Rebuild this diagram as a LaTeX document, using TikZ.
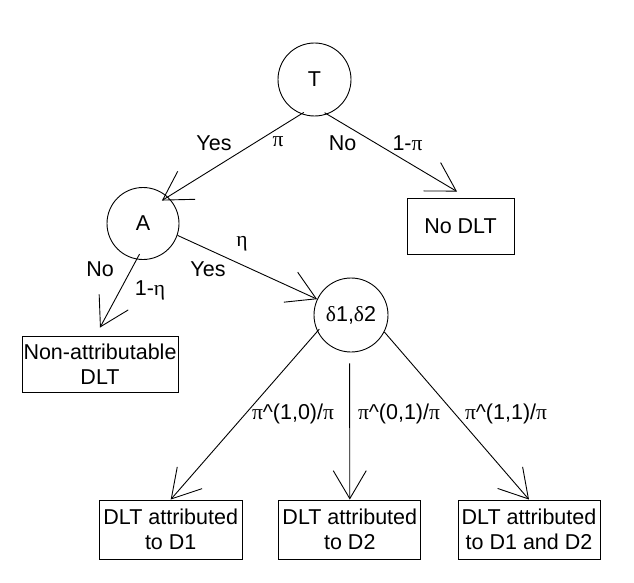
\documentclass[tikz,border=0pt]{standalone}
\usepackage{fontspec}
\setmainfont{Liberation Sans}
\newfontfamily\gr{Liberation Serif}
\usetikzlibrary{arrows.meta}
\begin{document}
\begin{tikzpicture}[x=1pt,y=-1pt,
  every node/.style={font=\fontsize{21.5}{24.5}\selectfont},
  chance/.style={draw,circle,line width=0.9pt,inner sep=0pt},
  outcome/.style={draw,rectangle,line width=0.9pt,align=center,inner sep=0pt},
  lbl/.style={inner sep=0pt},
  branch/.style={line width=0.9pt,-{Straight Barb[length=28pt,width=33pt,line width=0.9pt]}}]
\useasboundingbox (0,0) rectangle (634,583);
% chance nodes
\node[chance,minimum size=73pt] (T) at (314.5,79.5) {T};
\node[chance,minimum size=72pt] (A) at (143,223.5) {A};
\node[chance,minimum size=74pt] (D) at (351,315) {{\gr δ}1,{\gr δ}2};
% outcome boxes
\node[outcome,minimum width=107pt,minimum height=56pt] (nodlt) at (460.5,226) {No DLT};
\node[outcome,minimum width=156pt,minimum height=56pt] (non) at (100,364) {Non-attributable\\DLT};
\node[outcome,minimum width=143.5pt,minimum height=59pt] (d1) at (170.7,529.5) {DLT attributed\\to D1};
\node[outcome,minimum width=142pt,minimum height=59pt] (d2) at (349.8,529.5) {DLT attributed\\to D2};
\node[outcome,minimum width=142pt,minimum height=59pt] (d12) at (529,529.5) {DLT attributed\\to D1 and D2};
% connectors
\draw[branch,shorten <=-3pt,shorten >=-7pt] (T.249) -- (A.47);
\draw[branch,shorten <=-3pt] (T.290) -- ([xshift=-3.5pt,yshift=6pt]nodlt.north);
\draw[branch] (A.341) -- (D.155);
\draw[branch,shorten <=-6pt] (A.260) -- ([yshift=8pt]non.north);
\draw[branch,shorten <=-3pt] (D.206) -- (d1.north);
\draw[branch] ([xshift=-1.4pt,yshift=-11pt]D.south) -- (d2.north);
\draw[branch] (D.333) -- (d12.north);
% labels
\node[lbl] (lyes1) at (214,143) {Yes};
\node[lbl] (lpi) at (278,142) {\gr π};
\node[lbl] (lno1) at (342.5,143) {No};
\node[lbl] (l1pi) at (407.5,143) {1-{\gr π}};
\node[lbl] (leta) at (242,244) {\gr η};
\node[lbl] (lyes2) at (208,269) {Yes};
\node[lbl] (lno2) at (100,269) {No};
\node[lbl] (l1eta) at (150,290) {1-{\gr η}};
\node[lbl] (lp10) at (293,414) {{\gr π}\textasciicircum(1,0)/{\gr π}};
\node[lbl] (lp01) at (399,414) {{\gr π}\textasciicircum(0,1)/{\gr π}};
\node[lbl] (lp11) at (506,414) {{\gr π}\textasciicircum(1,1)/{\gr π}};
\end{tikzpicture}
\end{document}
